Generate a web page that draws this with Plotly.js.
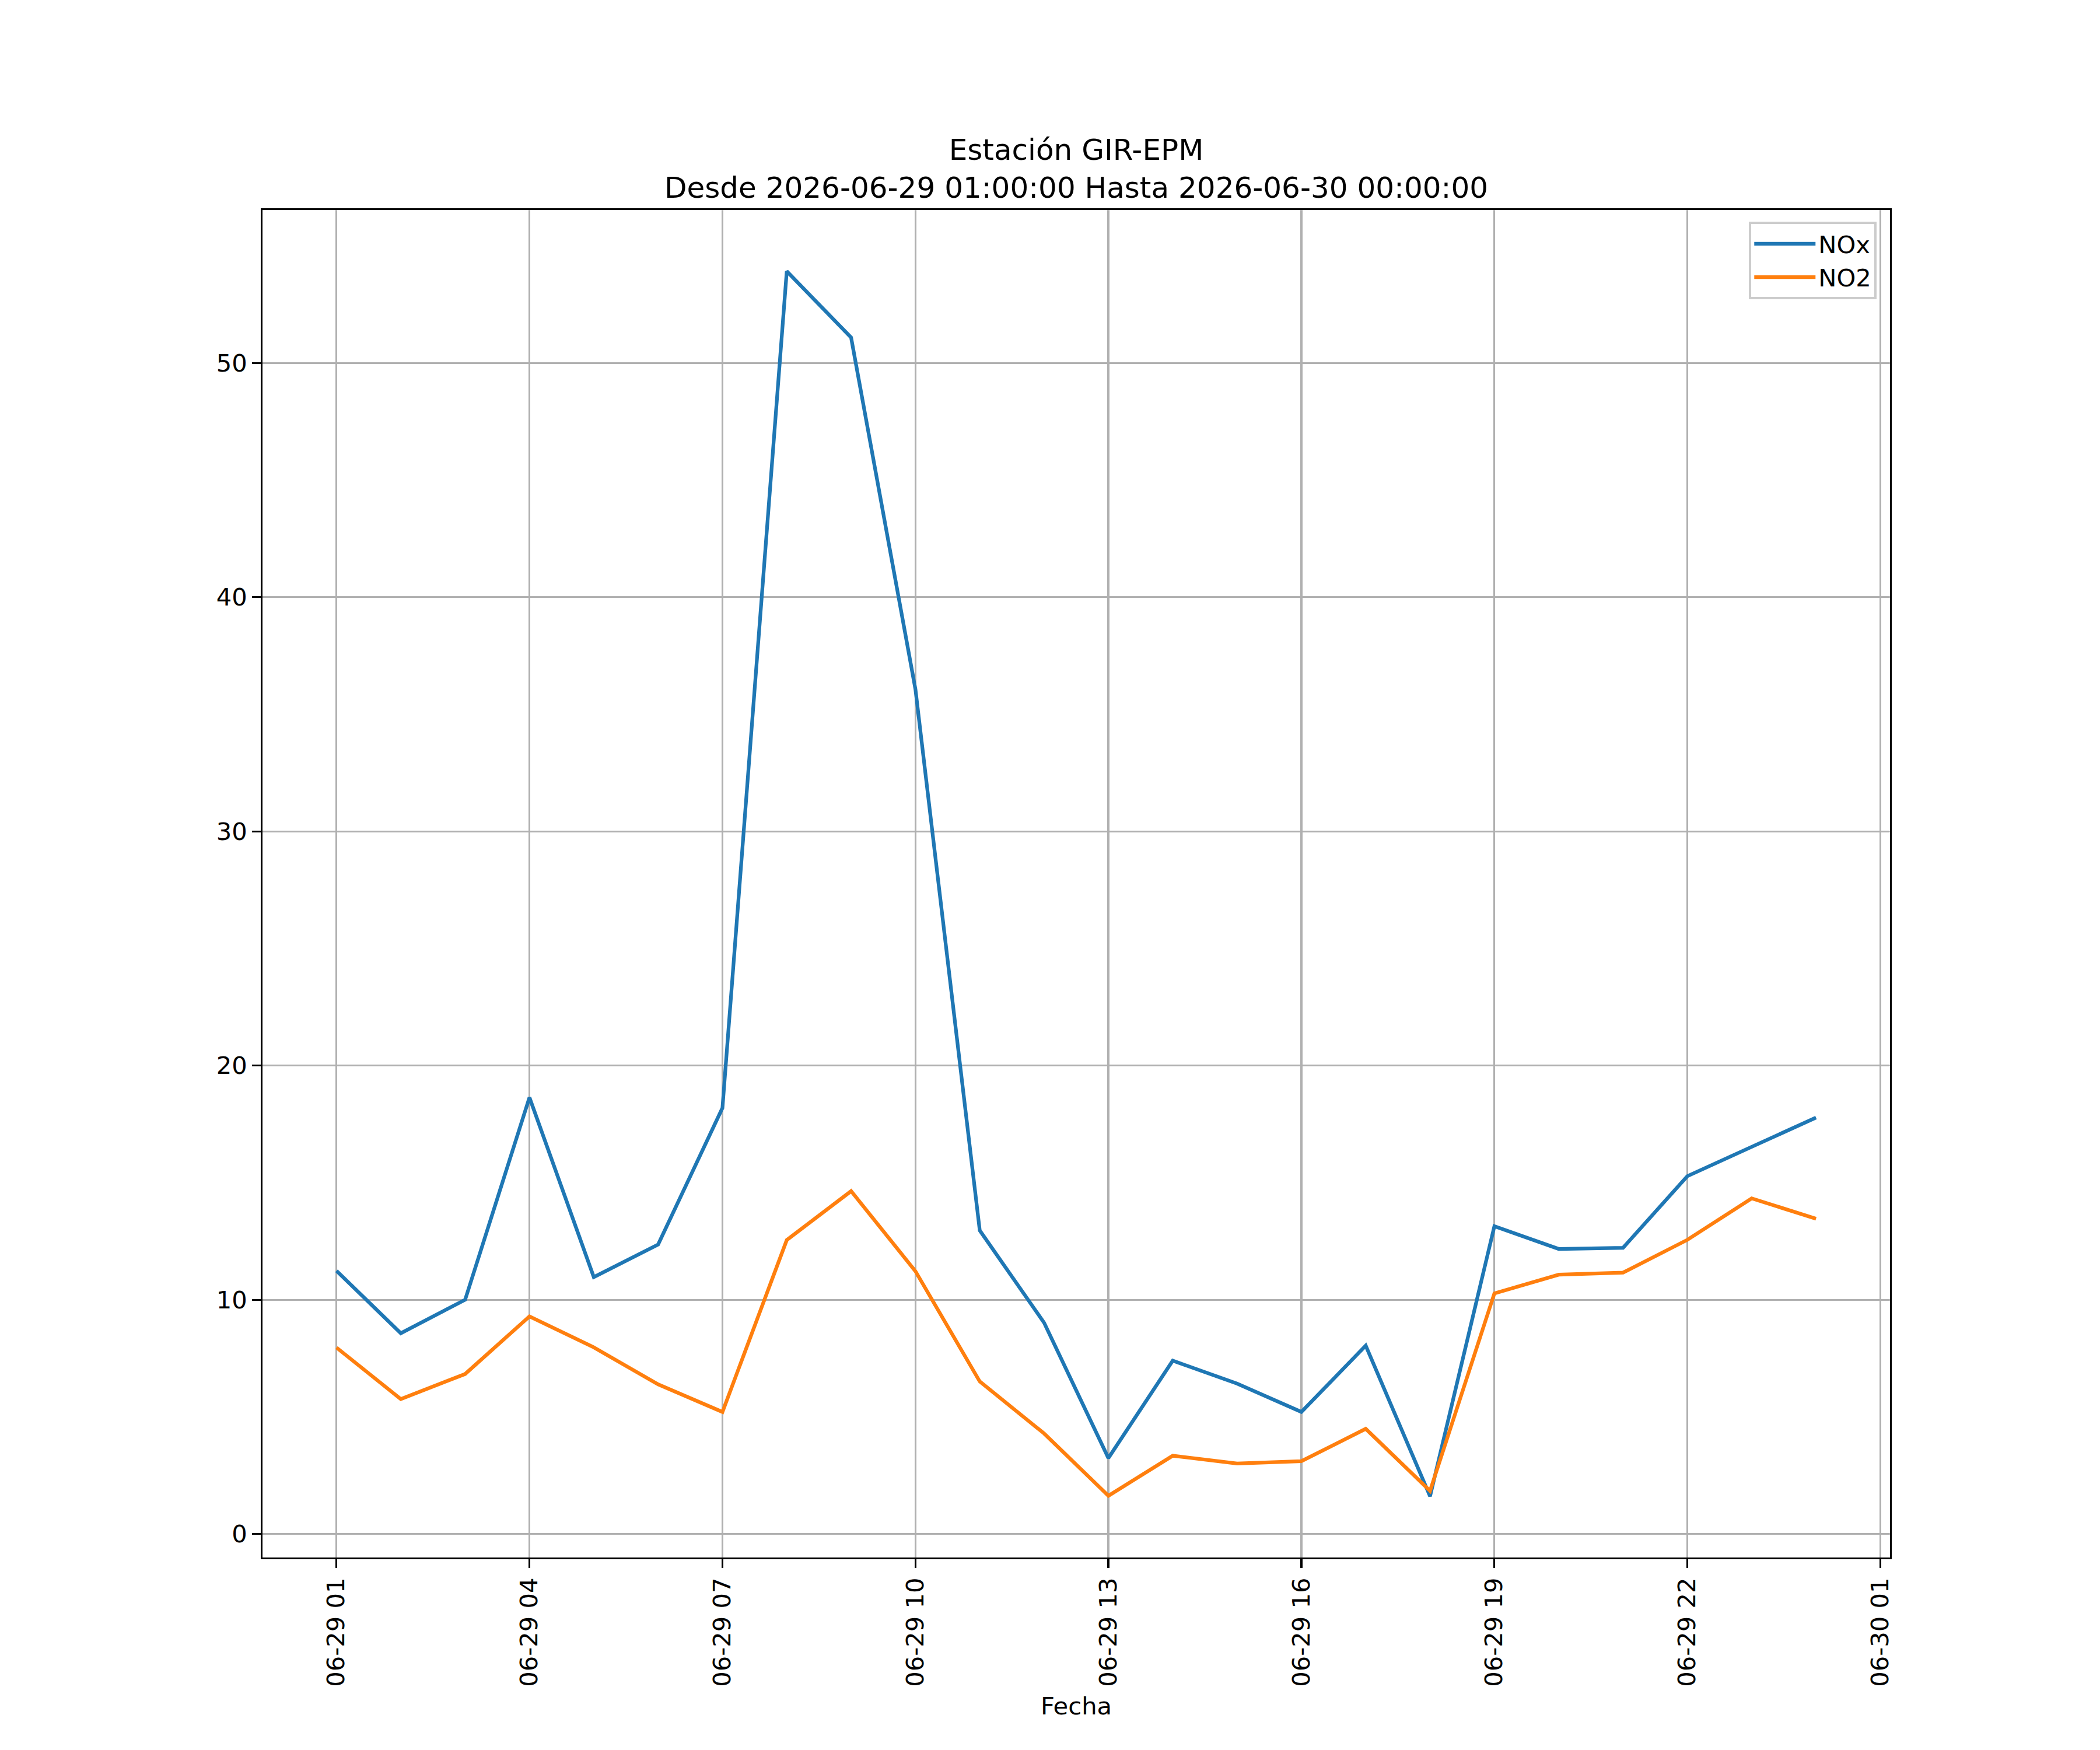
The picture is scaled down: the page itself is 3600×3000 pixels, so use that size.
<!DOCTYPE html>
<html>
<head>
<meta charset="utf-8">
<script src="https://cdn.plot.ly/plotly-3.0.1.min.js"></script>
<style>html,body{margin:0;padding:0;background:#fff;}</style>
</head>
<body>
<div id="chart" style="width:3600px;height:3000px;"></div>
<script>
var fechas = [
  '2026-06-29 01:00', '2026-06-29 02:00', '2026-06-29 03:00', '2026-06-29 04:00',
  '2026-06-29 05:00', '2026-06-29 06:00', '2026-06-29 07:00', '2026-06-29 08:00',
  '2026-06-29 09:00', '2026-06-29 10:00', '2026-06-29 11:00', '2026-06-29 12:00',
  '2026-06-29 13:00', '2026-06-29 14:00', '2026-06-29 15:00', '2026-06-29 16:00',
  '2026-06-29 17:00', '2026-06-29 18:00', '2026-06-29 19:00', '2026-06-29 20:00',
  '2026-06-29 21:00', '2026-06-29 22:00', '2026-06-29 23:00', '2026-06-30 00:00'
];
var nox = [11.24, 8.57, 10.0, 18.64, 10.97, 12.36, 18.19, 53.92, 51.09, 36.07, 12.96, 9.02,
           3.24, 7.40, 6.42, 5.21, 8.04, 1.61, 13.14, 12.17, 12.22, 15.28, 16.53, 17.78];
var no2 = [7.96, 5.76, 6.83, 9.29, 7.97, 6.39, 5.21, 12.55, 14.64, 11.22, 6.51, 4.29,
           1.63, 3.34, 3.01, 3.11, 4.49, 1.84, 10.27, 11.07, 11.16, 12.56, 14.33, 13.46];
var seriesNames = ['NOx', 'NO2'];
var titleLines = ['Estación GIR-EPM', 'Desde 2026-06-29 01:00:00 Hasta 2026-06-30 00:00:00'];
var xLabel = 'Fecha';

var FONT = 'DejaVu Sans, Verdana, sans-serif';
var PT = 300 / 72;

var allVals = nox.concat(no2);
var ymin = Math.min.apply(null, allVals), ymax = Math.max.apply(null, allVals);
var ypad = (ymax - ymin) * 0.05;

var traces = [
  {x: fechas, y: nox, name: seriesNames[0], type: 'scatter', mode: 'lines',
   line: {color: '#1f77b4', width: 1.5 * PT}},
  {x: fechas, y: no2, name: seriesNames[1], type: 'scatter', mode: 'lines',
   line: {color: '#ff7f0e', width: 1.5 * PT}}
];

var axisCommon = {
  showline: true, linecolor: '#000', linewidth: 0.8 * PT, mirror: true,
  showgrid: true, gridcolor: '#b0b0b0', gridwidth: 0.8 * PT,
  zeroline: false,
  ticks: 'outside', ticklen: 3.5 * PT, tickwidth: 0.8 * PT, tickcolor: '#000',
  tickfont: {family: FONT, size: 10 * PT, color: '#000'}
};

var layout = {
  width: 3600, height: 3000,
  paper_bgcolor: '#fff', plot_bgcolor: '#fff',
  margin: {l: 450, r: 360, t: 360, b: 330, pad: 0},
  font: {family: FONT, size: 10 * PT, color: '#000'},
  title: {
    text: titleLines.join('<br>'),
    font: {family: FONT, size: 12 * PT, color: '#000'},
    x: 0.5, xref: 'paper', xanchor: 'center',
    y: 0.9087, yref: 'container', yanchor: 'top'
  },
  xaxis: Object.assign({}, axisCommon, {
    type: 'date',
    range: ['2026-06-28 23:51:00', '2026-06-30 01:09:00'],
    tick0: '2026-06-29 01:00', dtick: 3 * 3600 * 1000,
    tickformat: '%m-%d %H', tickangle: -90,
    automargin: false,
    title: {text: xLabel, font: {family: FONT, size: 10 * PT, color: '#000'}, standoff: 20}
  }),
  yaxis: Object.assign({}, axisCommon, {
    range: [ymin - ypad, ymax + ypad],
    tick0: 0, dtick: 10,
    automargin: false
  }),
  showlegend: true,
  legend: {
    x: 0.9918, xanchor: 'right', xref: 'paper',
    y: 0.9913, yanchor: 'top', yref: 'paper',
    bgcolor: 'rgba(255,255,255,0.8)', bordercolor: '#cccccc', borderwidth: 1.0 * PT,
    font: {family: FONT, size: 10 * PT, color: '#000'},
    itemwidth: 105, tracegroupgap: 0
  }
};

Plotly.newPlot('chart', traces, layout, {displayModeBar: false, staticPlot: true});
</script>
</body>
</html>
